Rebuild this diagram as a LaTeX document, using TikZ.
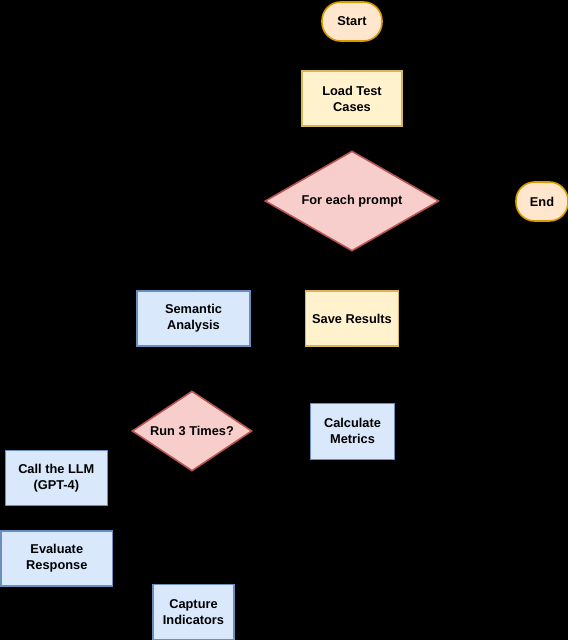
\documentclass[tikz,border=0pt]{standalone}
\usepackage{fontspec}
\setmainfont{Liberation Sans}
\usetikzlibrary{shapes.geometric,arrows}
\definecolor{termfill}{HTML}{FFE6CC}
\definecolor{termline}{HTML}{D79B00}
\definecolor{yelfill}{HTML}{FFF2CC}
\definecolor{yelline}{HTML}{D6B656}
\definecolor{redfill}{HTML}{F8CECC}
\definecolor{redline}{HTML}{B85450}
\definecolor{bluefill}{HTML}{DAE8FC}
\definecolor{blueline}{HTML}{6C8EBF}

\begin{document}
\begin{tikzpicture}[x=0.75pt,y=-0.75pt,->,>=stealth',line width=1.2pt,
  every node/.style={font=\fontsize{9.6}{12}\selectfont\bfseries,align=center,inner sep=1pt},
  termnode/.style={rectangle,rounded corners=14pt,fill=termfill,draw=termline,minimum height=29.25pt},
  yelnode/.style={rectangle,fill=yelfill,draw=yelline,minimum height=41.25pt},
  bluenode/.style={rectangle,fill=bluefill,draw=blueline,minimum height=41.25pt},
  decnode/.style={diamond,fill=redfill,draw=redline,inner sep=0pt},
  link/.style={draw=black,line width=0.75pt}]
	\useasboundingbox (0,0) rectangle (568,640);
	\fill[black] (0,0) rectangle (568,640);
	\node [termnode,minimum width=45pt] (start) at (352, 21.5) {Start};
	\node [yelnode,minimum width=75pt] (load) at (352, 98.5) {Load Test\\Cases};
	\node [decnode,shape aspect=1.74,minimum width=130.5pt,minimum height=75pt] (prompt) at (352, 201) {For each prompt};
	\node [termnode,minimum width=39pt] (end) at (542, 201.5) {End};
	\node [bluenode,minimum width=84.75pt] (semantic) at (193.5, 318.5) {Semantic\\Analysis};
	\node [yelnode,minimum width=69.75pt] (save) at (352, 318.5) {Save Results};
	\node [decnode,shape aspect=1.5,minimum width=90pt,minimum height=60pt] (run) at (192, 431) {Run 3 Times?};
	\node [bluenode,minimum width=63pt,minimum height=42pt] (metrics) at (352.5, 431.3) {Calculate\\Metrics};
	\node [bluenode,minimum width=76.5pt] (llm) at (56.3, 478) {Call the LLM\\(GPT-4)};
	\node [bluenode,minimum width=83.25pt] (eval) at (56.8, 558.3) {Evaluate\\Response};
	\node [bluenode,minimum width=60.75pt] (capture) at (193.5, 612) {Capture\\Indicators};
	\draw[link] (start) to (load);
	\draw[link] (load) to (prompt);
	\draw[link] (prompt) to (end);
	\draw[link] (prompt.west) -| (semantic.north);
	\draw[link] (semantic) to (run);
	\draw[link] (run.west) -| (llm.north);
	\draw[link] (llm) to (eval);
	\draw[link] (eval.south) |- (capture.west);
	\draw[link] (capture) to (run);
	\draw[link] (run) to (metrics);
	\draw[link] (metrics) to (save);
	\draw[link] (save) to (prompt);
\end{tikzpicture}
\end{document}
